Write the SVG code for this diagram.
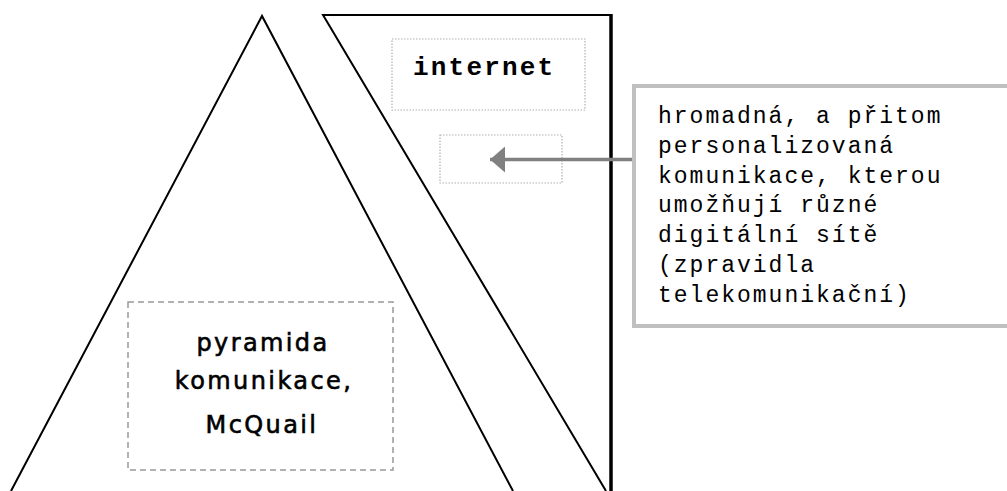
<svg xmlns="http://www.w3.org/2000/svg" width="1007" height="491" viewBox="0 0 1007 491">
<defs>
<style>
.shape{fill:none;stroke:#000;stroke-width:2;stroke-linejoin:miter}
.dot{fill:none;stroke:#b0b0b0;stroke-width:1.2;stroke-dasharray:1.5 1.5}
.dash{fill:none;stroke:#999;stroke-width:1.5;stroke-dasharray:6 4}
.mono{font-family:"Liberation Mono","Courier New",monospace;fill:#000}
.sans{font-family:"DejaVu Sans","Verdana",sans-serif;fill:#000;stroke:#000;stroke-width:0.6px;text-anchor:middle;font-size:24px;letter-spacing:2.4px}
</style>
<marker id="ah" markerUnits="userSpaceOnUse" markerWidth="16" markerHeight="26" refX="15" refY="13" orient="auto">
<path d="M0,0 L15,13 L0,26 Z" fill="#808080"/>
</marker>
</defs>
<rect width="1007" height="491" fill="#fff"/>
<g id="pyramid">
<path class="shape" d="M11,491 L262,16 L513,491"/>
</g>
<g id="internet-band">
<path class="shape" d="M606,491 L326,20 L323,15 L611,15"/>
<line x1="611" y1="14" x2="611" y2="491" stroke="#000" stroke-width="3.5"/>
</g>
<g id="internet">
<rect class="dot" x="392" y="39" width="193" height="71"/>
<text class="mono" x="413" y="75" font-size="26" font-weight="bold" letter-spacing="2.2">internet</text>
</g>
<g id="target-box">
<rect class="dot" x="440" y="135" width="122" height="48"/>
</g>
<g id="pyramid-label">
<rect class="dash" x="128" y="302" width="265" height="168"/>
<text class="sans" x="263" y="351">pyramida</text>
<text class="sans" x="264" y="389">komunikace,</text>
<text class="sans" x="262" y="433">McQuail</text>
</g>
<g id="description">
<rect x="634" y="86" width="400" height="240" fill="#fff" stroke="#c0c0c0" stroke-width="4"/>
<text class="mono" font-size="23" letter-spacing="2.0">
<tspan x="658" y="123">hromadná, a přitom</tspan>
<tspan x="658" y="153">personalizovaná</tspan>
<tspan x="658" y="183">komunikace, kterou</tspan>
<tspan x="658" y="212">umožňují  různé</tspan>
<tspan x="658" y="242">digitální sítě</tspan>
<tspan x="658" y="272">(zpravidla</tspan>
<tspan x="658" y="302">telekomunikační)</tspan>
</text>
</g>
<g id="connectors">
<line x1="632" y1="159.5" x2="490" y2="159.5" stroke="#808080" stroke-width="3.5" marker-end="url(#ah)"/>
</g>
</svg>
